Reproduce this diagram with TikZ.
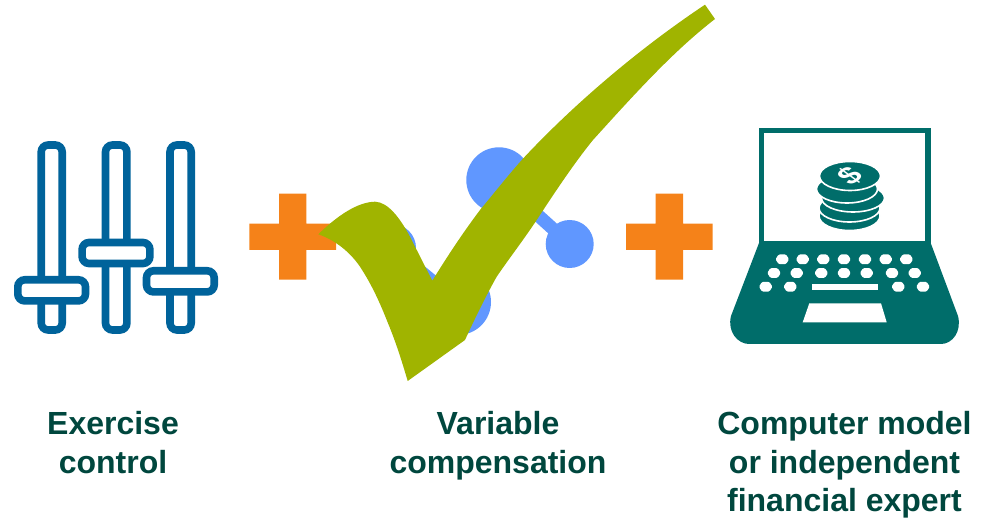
\documentclass[tikz,border=0pt]{standalone}
\usepackage{fontspec}
\setmainfont{Liberation Sans}
\definecolor{slidercol}{HTML}{00639B}
\definecolor{pluscol}{HTML}{F58219}
\definecolor{netcol}{HTML}{6097FF}
\definecolor{checkcol}{HTML}{A0B400}
\definecolor{lapcol}{HTML}{006D6A}
\definecolor{textcol}{HTML}{00473E}
\tikzset{
  bar/.style={draw=slidercol,line width=7.6pt,rounded corners=7pt,fill=white},
  netnode/.style={circle,fill=netcol,draw=none,inner sep=0pt,minimum size=#1},
  netlink/.style={draw=netcol,line width=13pt},
  coin/.style={fill=lapcol,draw=white,line width=1.6pt},
  lab/.style={text=textcol,font=\fontsize{32}{38.5}\selectfont\bfseries,align=center,anchor=north},
}
\newcommand{\keyat}[2]{\fill[white,rounded corners=1.2pt] (#1-6.8,#2) -- (#1-3.6,#2-4.9) -- (#1+3.6,#2-4.9) -- (#1+6.8,#2) -- (#1+3.6,#2+4.9) -- (#1-3.6,#2+4.9) -- cycle;}
\begin{document}
\begin{tikzpicture}[x=1pt,y=-1pt]
\useasboundingbox (0,0) rectangle (988,518);
% sliders
\draw[bar] (41.2,145) rectangle (62.2,330);
\draw[bar] (105.5,145) rectangle (126.9,330);
\draw[bar] (170,145) rectangle (191.2,330);
\draw[bar] (17.8,279.8) rectangle (85.5,300.9);
\draw[bar] (82.1,242.5) rectangle (149.9,263.5);
\draw[bar] (146.5,270.8) rectangle (214.2,291.9);
% plus signs
\fill[pluscol] (279,193.7) -- (306.3,193.7) -- (306.3,223.7) -- (336,223.7) -- (336,250) -- (306.3,250) -- (306.3,279.7) -- (279,279.7) -- (279,250) -- (249.3,250) -- (249.3,223.7) -- (279,223.7) -- cycle;
\fill[pluscol] (655.7,193.7) -- (683,193.7) -- (683,223.7) -- (712.7,223.7) -- (712.7,250) -- (683,250) -- (683,279.7) -- (655.7,279.7) -- (655.7,250) -- (626,250) -- (626,223.7) -- (655.7,223.7) -- cycle;
% network
\node[netnode=65.4pt] (hub) at (499,180) {};
\node[netnode=48pt] (sat) at (569.7,244) {};
\node[netnode=66pt] (low) at (458,302) {};
\node[netnode=48pt] (lft) at (392,248) {};
\draw[netlink] (hub.center) -- (sat.center);
\draw[netlink] (lft.center) -- (low.center);
\draw[netlink] (hub.center) -- (low.center);
% check
\fill[checkcol] (318.3,234.3) .. controls (338,215) and (358,202) .. (375,201.7)
 .. controls (388,202) and (400,218) .. (410,236.7)
 -- (432.3,280.7)
 .. controls (450,252) and (465,230) .. (480,210)
 .. controls (495,192) and (510,173) .. (523.3,158.3)
 .. controls (575,103) and (640,48) .. (705,4.7)
 -- (715,19)
 .. controls (675,50) and (640,88) .. (593,140)
 .. controls (575,162) and (555,192) .. (536.7,220)
 .. controls (522,242) and (508,260) .. (496.7,276.7)
 .. controls (488,292) and (475,318) .. (465,340) -- (407.7,381)
 .. controls (400,355) and (395,340) .. (386.7,320)
 .. controls (378,298) and (370,282) .. (360,266.7)
 .. controls (350,252) and (335,240) .. (318.3,234.3) -- cycle;
% laptop
\draw[lapcol,line width=5.3pt] (761.6,130.7) rectangle (928,243.5);
\fill[lapcol] (759,243) -- (930.7,243) -- (958,316)
 .. controls (962,332) and (952,344) .. (941,344) -- (749,344)
 .. controls (738,344) and (727,332) .. (731,316) -- cycle;
\keyat{782.3}{259.3}\keyat{802.7}{259.3}\keyat{823.3}{259.3}\keyat{844}{259.3}\keyat{865}{259.3}\keyat{885.7}{259.3}\keyat{906.3}{259.3}
\keyat{774}{273}\keyat{796.7}{273}\keyat{821.3}{273}\keyat{844}{273}\keyat{866.7}{273}\keyat{892}{273}\keyat{914.7}{273}
\keyat{765.7}{286.7}\keyat{790.3}{286.7}\keyat{898.3}{286.7}\keyat{923}{286.7}
\fill[white] (811.7,284) rectangle (877.7,289.7);
\fill[white] (809.3,303.3) -- (881,303.3) -- (886.7,322.3) -- (802.7,322.3) -- cycle;
% coins
\path[coin] (849.5,216) ellipse (30.5 and 14.5);
\path[coin] (849.5,208) ellipse (30.5 and 14);
\path[coin] (853,198) ellipse (31.5 and 14);
\path[coin] (847,189) ellipse (30.5 and 14);
\path[coin] (850,176) ellipse (30.5 and 14.5);
\begin{scope}[shift={(850,176.3)}]
\node[text=white,font=\fontsize{34}{34}\selectfont\bfseries,transform shape,yscale=0.72,rotate=45,inner sep=0pt] (dollar) at (0,0) {\$};
\end{scope}
% labels
\node[lab] (l1) at (113,408) {Exercise\\control};
\node[lab] (l2) at (498,408) {Variable\\compensation};
\node[lab] (l3) at (844.5,408) {Computer model\\or independent\\financial expert};
\end{tikzpicture}
\end{document}
